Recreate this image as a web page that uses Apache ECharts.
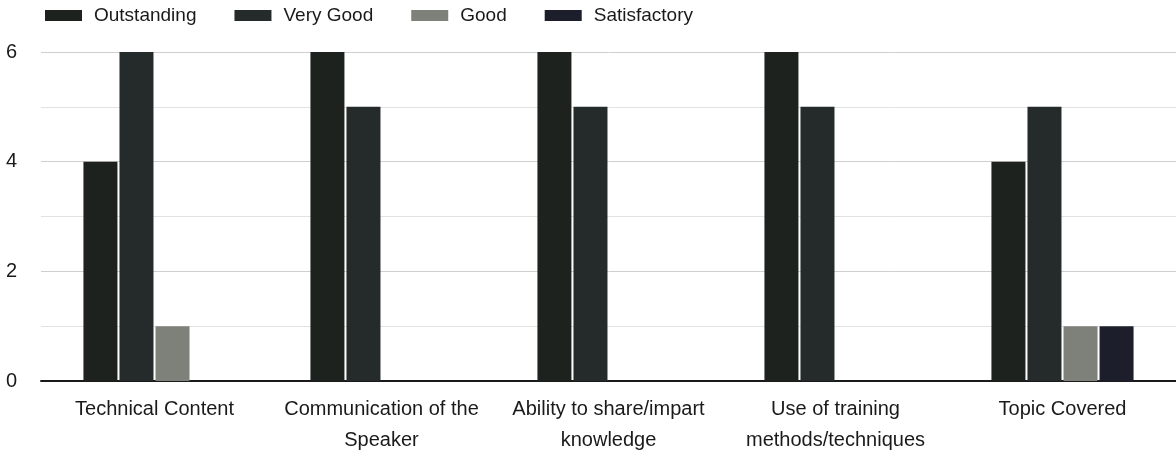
<!DOCTYPE html>
<html>
<head>
<meta charset="utf-8">
<script src="https://cdn.jsdelivr.net/npm/echarts@6/dist/echarts.min.js"></script>
<style>
html,body{margin:0;padding:0;background:#fff;}
#c{width:1176px;height:461px;}
</style>
</head>
<body>
<div id="c"></div>
<script>
const categories = ['Technical Content', 'Communication of the\nSpeaker', 'Ability to share/impart\nknowledge', 'Use of training\nmethods/techniques', 'Topic Covered'];
const seriesNames = ['Outstanding', 'Very Good', 'Good', 'Satisfactory'];
const outstanding = [4, 6, 6, 6, 4];
const veryGood = [6, 5, 5, 5, 5];
const good = [1, 0, 0, 0, 1];
const satisfactory = [0, 0, 0, 0, 1];
const yTicks = [0, 2, 4, 6];

const colors = ['#1e221f', '#242b2a', '#7e817a', '#1c1f2b'];
const values = [outstanding, veryGood, good, satisfactory];
const FONT = '"Liberation Sans", Arial, sans-serif';

const chart = echarts.init(document.getElementById('c'), null, {renderer: 'canvas'});
chart.setOption({
  backgroundColor: '#ffffff',
  animation: false,
  color: colors,
  legend: {
    top: 1,
    left: 40,
    itemWidth: 37,
    itemHeight: 11,
    itemGap: 38,
    icon: 'rect',
    textStyle: {fontFamily: FONT, fontSize: 19, color: '#1a1a1a', padding: [0, 0, 0, 7]},
    data: seriesNames
  },
  grid: {left: 41, right: 0, top: 52, bottom: 80, containLabel: false},
  xAxis: {
    type: 'category',
    data: categories,
    axisLine: {show: true, lineStyle: {color: '#1a1a1a', width: 2}},
    axisTick: {show: false},
    axisLabel: {fontFamily: FONT, fontSize: 20, color: '#1a1a1a', margin: 13, lineHeight: 31, interval: 0}
  },
  yAxis: {
    type: 'value',
    min: 0,
    max: 6,
    interval: 2,
    axisLine: {show: false},
    axisTick: {show: false},
    axisLabel: {fontFamily: FONT, fontSize: 20, color: '#1a1a1a', margin: 24,
      formatter: v => yTicks.includes(v) ? String(v) : ''},
    splitLine: {show: true, lineStyle: {color: '#cfcfcf', width: 1}},
    minorTick: {show: false, splitNumber: 2},
    minorSplitLine: {show: true, lineStyle: {color: '#e2e2e2', width: 1}}
  },
  series: seriesNames.map((name, i) => ({
    name: name,
    type: 'bar',
    data: values[i],
    barWidth: 34,
    barGap: '6%',
    itemStyle: {color: colors[i]}
  }))
});
</script>
</body>
</html>
